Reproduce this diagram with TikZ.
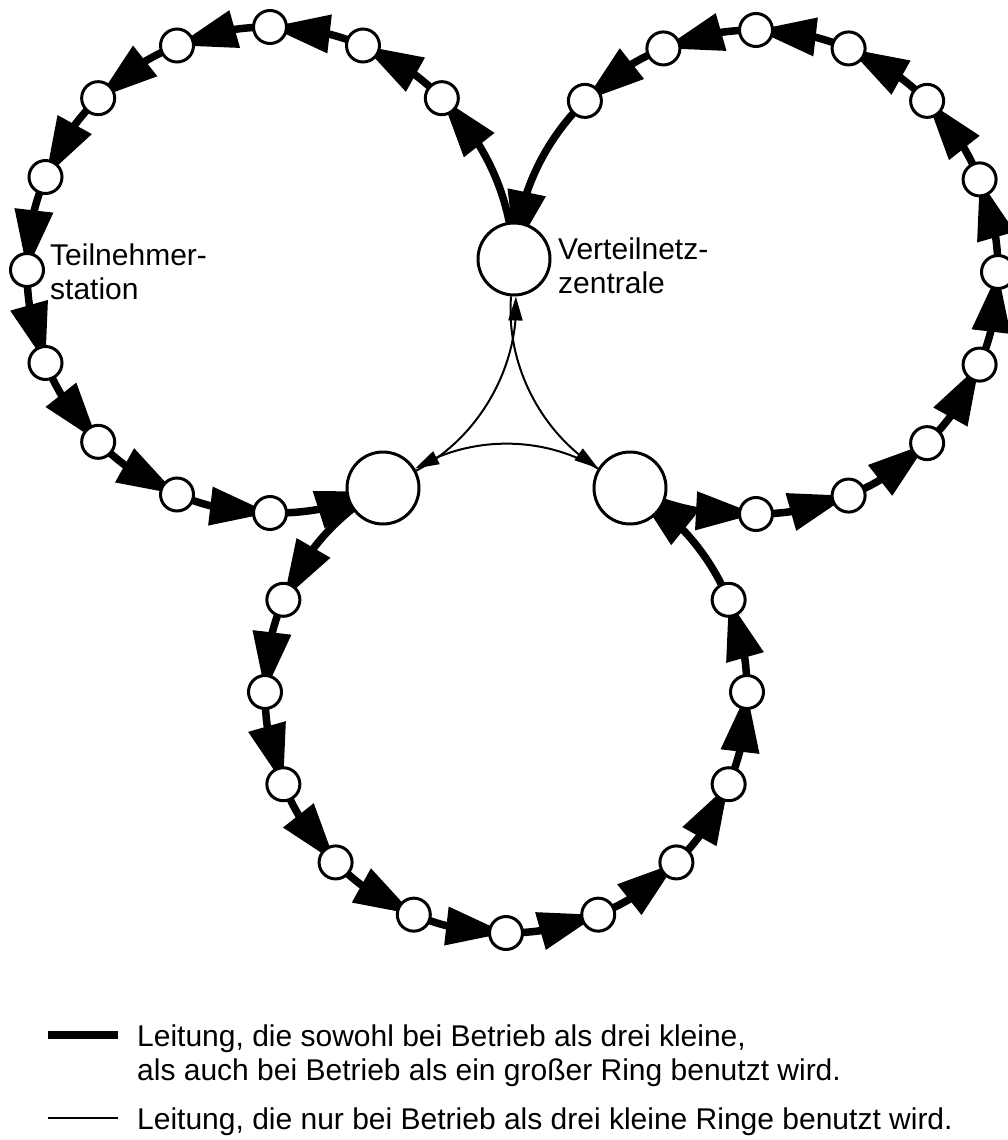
\documentclass[tikz,border=0pt]{standalone}
\usepackage{fontspec}
\setmainfont{Liberation Sans}
\usetikzlibrary{arrows.meta,bending,backgrounds,calc}
\begin{document}
\begin{tikzpicture}[x=1pt,y=1pt,
  small/.style={circle,draw,fill=white,line width=3pt,minimum size=33pt,inner sep=0pt},
  big/.style={circle,draw,fill=white,line width=3pt,minimum size=72pt,inner sep=0pt},
  thickline/.style={line width=7.5pt,-{Triangle[length=60pt,width=37pt,flex]},looseness=0.9},
  thinline/.style={line width=2pt,-{Triangle[length=24pt,width=14pt,flex]},looseness=0.9},
  lbl/.style={font=\fontsize{30}{34}\selectfont,align=left,inner sep=0pt},
]
\useasboundingbox (0,0) rectangle (1008,-1140);
\coordinate (cTL) at (270,-270);
\coordinate (cTR) at (756,-272);
\coordinate (cB) at (506,-692);
\node[big] (T) at (514,-259) {};
\node[big] (BL) at (383,-488) {};
\node[big] (BR) at (630,-488) {};
\foreach \k in {0,...,10} {
  \node[small] (tl\k) at ($(cTL)+({45+22.5*\k}:243)$) {};
  \node[small] (tr\k) at ($(cTR)+({270+22.5*\k}:242)$) {};
  \node[small] (b\k) at ($(cB)+({157.5+22.5*\k}:241)$) {};
}
\begin{scope}[on background layer]
  % top-left ring
  \draw[thickline] (T.center) to[bend right=21] (tl0.center);
  \foreach \k [evaluate=\k as \n using int(\k+1)] in {0,...,9}
    \draw[thickline] (tl\k.center) to[bend right=11.25] (tl\n.center);
  \draw[thickline,shorten >=8pt] (tl10.center) to[bend right=13.5] (BL.center);
  \draw[thinline] (BL) to[bend right=32.7] (T);
  % top-right ring
  \draw[thickline] (BR.center) to[bend right=15] (tr0.center);
  \foreach \k [evaluate=\k as \n using int(\k+1)] in {0,...,9}
    \draw[thickline] (tr\k.center) to[bend right=11.25] (tr\n.center);
  \draw[thickline,shorten >=8pt] (tr10.center) to[bend right=21] (T.center);
  \draw[thinline] (T) to[bend right=31.4] (BR);
  % bottom ring
  \draw[thickline] (BL.center) to[bend right=18.2] (b0.center);
  \foreach \k [evaluate=\k as \n using int(\k+1)] in {0,...,9}
    \draw[thickline] (b\k.center) to[bend right=11.25] (b\n.center);
  \draw[thickline,shorten >=8pt] (b10.center) to[bend right=18.1] (BR.center);
  \draw[thinline] (BR) to[bend right=31.2] (BL);
\end{scope}
\node[lbl,anchor=base west] (lblTS) at (50,-299) {Teilnehmer-\\station};
\node[lbl,anchor=base west] (lblVZ) at (558,-293) {Verteilnetz-\\zentrale};
% legend
\coordinate (l1a) at (48,-1035);
\coordinate (l1b) at (118,-1035);
\draw[line width=8pt] (l1a) -- (l1b);
\coordinate (l2a) at (48,-1118);
\coordinate (l2b) at (118,-1118);
\draw[line width=2pt] (l2a) -- (l2b);
\node[lbl,anchor=base west] (leg1) at (137,-1080) {Leitung, die sowohl bei Betrieb als drei kleine,\\als auch bei Betrieb als ein großer Ring benutzt wird.};
\node[lbl,anchor=base west] (leg2) at (137,-1129) {Leitung, die nur bei Betrieb als drei kleine Ringe benutzt wird.};
\end{tikzpicture}
\end{document}
